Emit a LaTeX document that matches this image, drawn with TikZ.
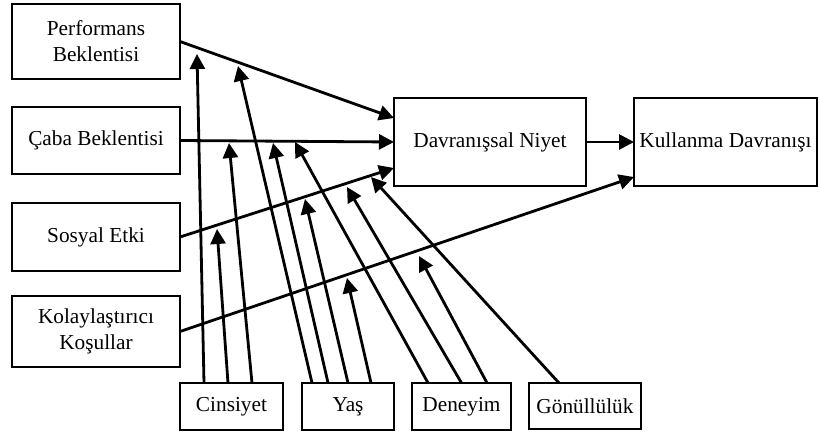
\documentclass[tikz,border=0pt]{standalone}
\usepackage{fontspec}
\setmainfont{Liberation Serif}
\usetikzlibrary{arrows.meta,calc}
\begin{document}
\begin{tikzpicture}[x=0.5pt,y=-0.5pt,
  box/.style={draw,line width=1.4pt,inner sep=0pt,outer sep=0pt,align=center,
    font=\fontsize{10.65}{13}\selectfont},
  conn/.style={line width=1.4pt,-{Triangle[length=7.5pt,width=7.5pt]}},
  plain/.style={line width=1.4pt}]
\useasboundingbox (0,0) rectangle (820,434);
% main boxes
\node[box,minimum width=84pt,minimum height=37.5pt] (perf) at (96,41.5) {Performans\\Beklentisi};
\node[box,minimum width=84pt,minimum height=33.5pt] (caba) at (96,140.5) {Çaba Beklentisi};
\node[box,minimum width=84pt,minimum height=34pt] (sos) at (96,237) {Sosyal Etki};
\node[box,minimum width=84pt,minimum height=35.5pt] (kol) at (96,331.5) {Kolaylaştırıcı\\Koşullar};
\node[box,minimum width=96pt,minimum height=44pt] (dn) at (490,142) {Davranışsal Niyet};
\node[box,minimum width=91.5pt,minimum height=44pt] (kd) at (725.5,142) {Kullanma Davranışı};
% moderator boxes
\node[box,minimum width=51.5pt,minimum height=23.5pt] (cin) at (231.5,406.5) {Cinsiyet};
\node[box,minimum width=46pt,minimum height=23.5pt] (yas) at (348,406.5) {Yaş};
\node[box,minimum width=49.5pt,minimum height=23.5pt] (den) at (461.5,406.5) {Deneyim};
\node[box,minimum width=56pt,minimum height=23pt] (gon) at (585,406) {Gönüllülük};
% arrow targets
\coordinate (dnA) at (394,118);
\coordinate (dnC) at (394,168);
\coordinate (kdC) at (634,177);
\coordinate (t1) at (197,54);
\coordinate (t2) at (217,229);
\coordinate (t3) at (229,143);
\coordinate (t4) at (238,66);
\coordinate (t5) at (273,143);
\coordinate (t6) at (305,199);
\coordinate (t7) at (347,278);
\coordinate (t8) at (295,142);
\coordinate (t9) at (347,187);
\coordinate (t10) at (419,256);
\coordinate (t11) at (371,177);
% main connectors
\draw[conn] (perf.east) -- (dnA);
\draw[conn] (caba.east) -- (dn.west);
\draw[conn] (sos.east) -- (dnC);
\draw[conn] (kol.east) -- (kdC);
\draw[conn] (dn.east) -- (kd.west);
% moderator connectors
\draw[conn] ($(cin.north west)!0.233!(cin.north east)$) -- (t1);
\draw[conn] ($(cin.north west)!0.466!(cin.north east)$) -- (t2);
\draw[conn] ($(cin.north west)!0.699!(cin.north east)$) -- (t3);
\draw[conn] ($(yas.north west)!0.109!(yas.north east)$) -- (t4);
\draw[conn] ($(yas.north west)!0.283!(yas.north east)$) -- (t5);
\draw[conn] ($(yas.north west)!0.5!(yas.north east)$) -- (t6);
\draw[conn] ($(yas.north west)!0.75!(yas.north east)$) -- (t7);
\draw[conn] ($(den.north west)!0.162!(den.north east)$) -- (t8);
\draw[conn] ($(den.north west)!0.5!(den.north east)$) -- (t9);
\draw[conn] ($(den.north west)!0.758!(den.north east)$) -- (t10);
\draw[conn] ($(gon.north west)!0.268!(gon.north east)$) -- (t11);
\end{tikzpicture}
\end{document}
